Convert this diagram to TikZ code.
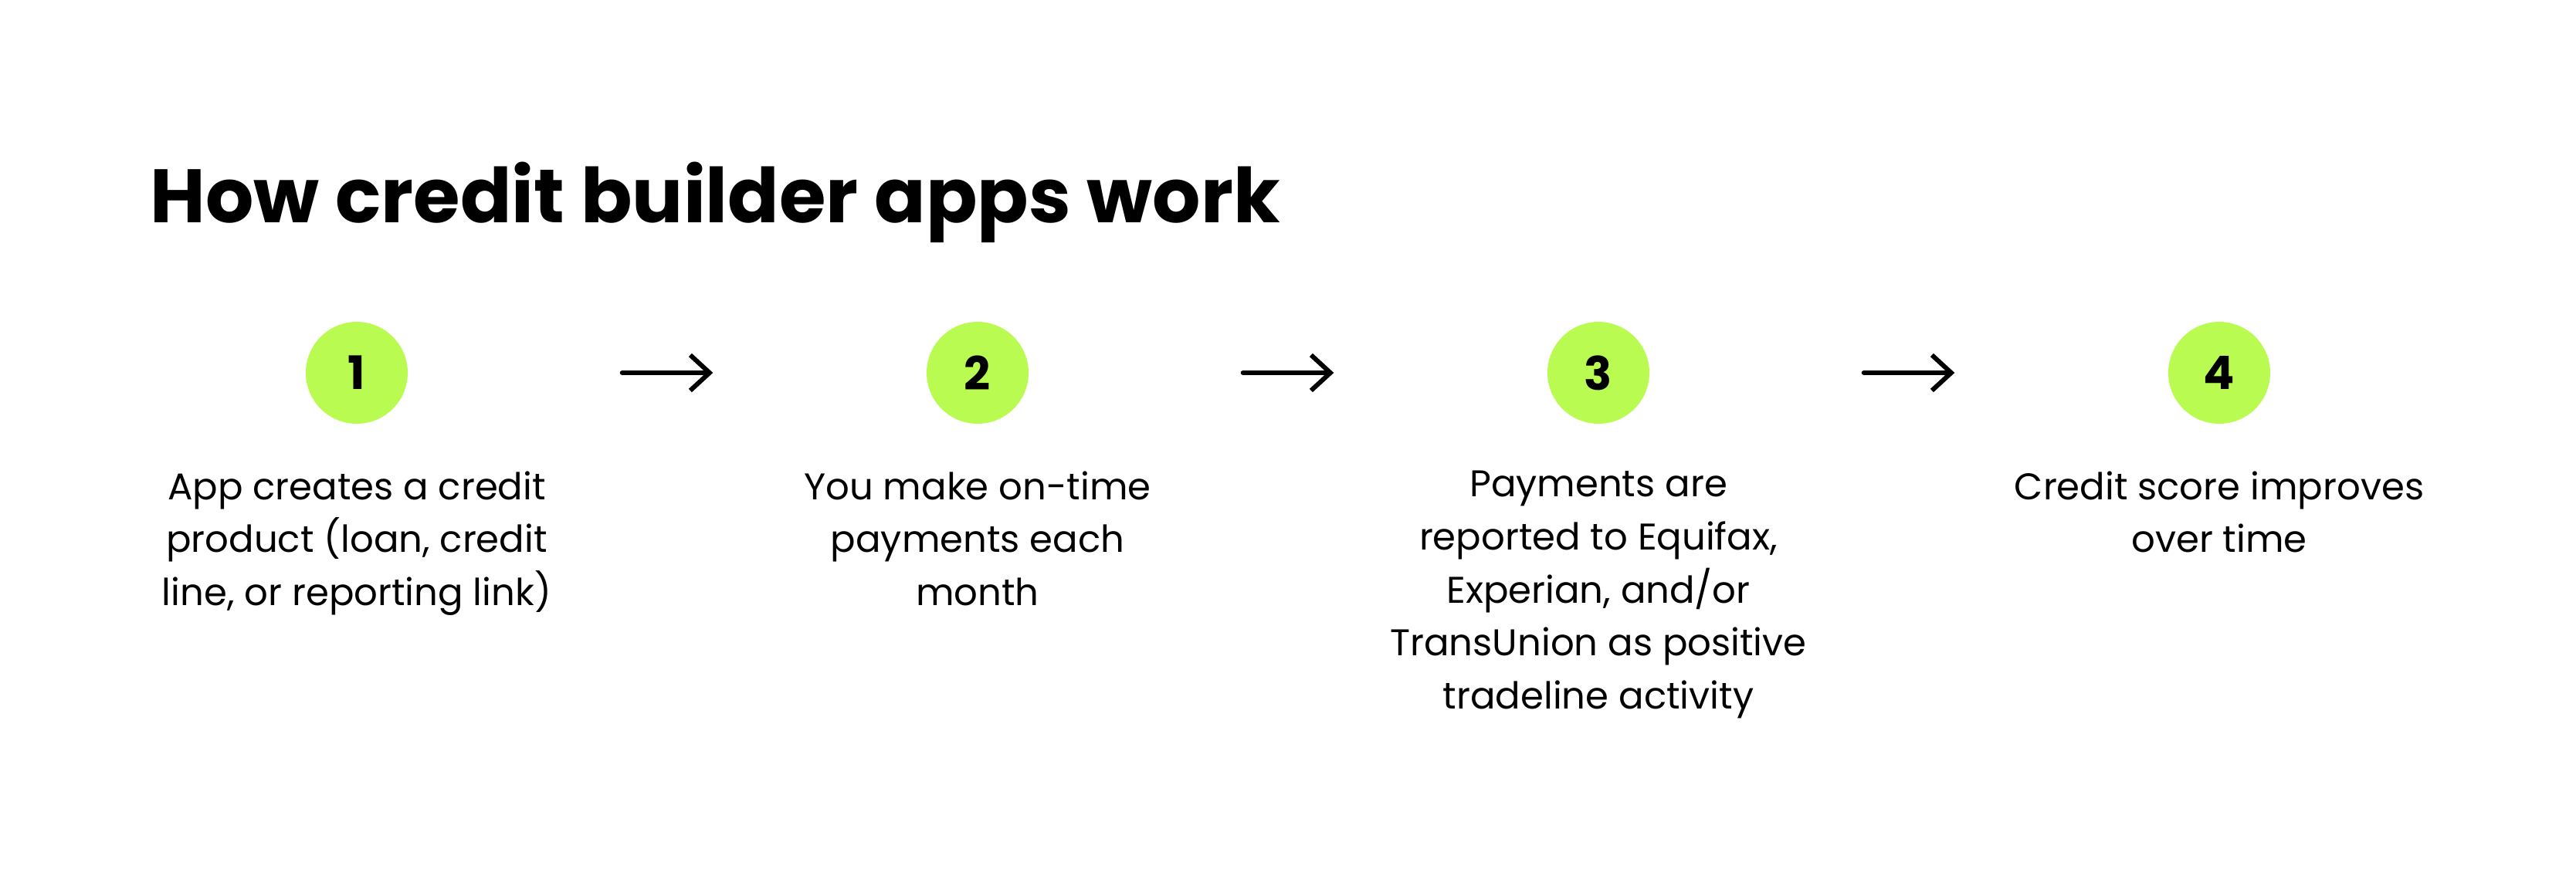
\documentclass[tikz,border=0pt]{standalone}
\usepackage{fontspec}
\setmainfont{Poppins}
\usetikzlibrary{positioning,arrows.meta}
\definecolor{stepgreen}{HTML}{B9FB51}

\begin{document}
\begin{tikzpicture}[node distance=8.04cm, on grid,
  num/.style={circle, fill=stepgreen, minimum size=1.32cm, inner sep=0pt,
    font=\fontsize{17}{20}\selectfont\bfseries},
  desc/.style={anchor=north, align=center, inner sep=0pt,
    font=\fontsize{13.7}{19.5}\selectfont},
  flow/.style={-{Straight Barb[length=0.25cm,width=0.46cm]}, line width=1.7pt,
    line cap=round, shorten <=2.77cm, shorten >=2.76cm}]
  \useasboundingbox (0,0) rectangle (33.36,-11.34);
  \node[anchor=base west, inner sep=0pt, font=\fontsize{27.9}{33}\selectfont\bfseries]
    (title) at (1.94,-2.88) {How credit builder apps work};

  \node[num] (n1) at (4.62,-4.83) {1};
  \node[num, right=of n1] (n2) {2};
  \node[num, right=of n2] (n3) {3};
  \node[num, right=of n3] (n4) {4};

  \draw[flow] (n1) -- (n2);
  \draw[flow] (n2) -- (n3);
  \draw[flow] (n3) -- (n4);

  \node[desc] (d1) at ([yshift=-0.6cm]n1.south) {App creates a credit\\ product (loan, credit\\ line, or reporting link)};
  \node[desc] (d2) at ([yshift=-0.6cm]n2.south) {You make on-time\\ payments each\\ month};
  \node[desc] (d3) at ([yshift=-0.6cm]n3.south) {Payments are\\ reported to Equifax,\\ Experian, and/or\\ TransUnion as positive\\ tradeline activity};
  \node[desc] (d4) at ([yshift=-0.6cm]n4.south) {Credit score improves\\ over time};
\end{tikzpicture}
\end{document}
